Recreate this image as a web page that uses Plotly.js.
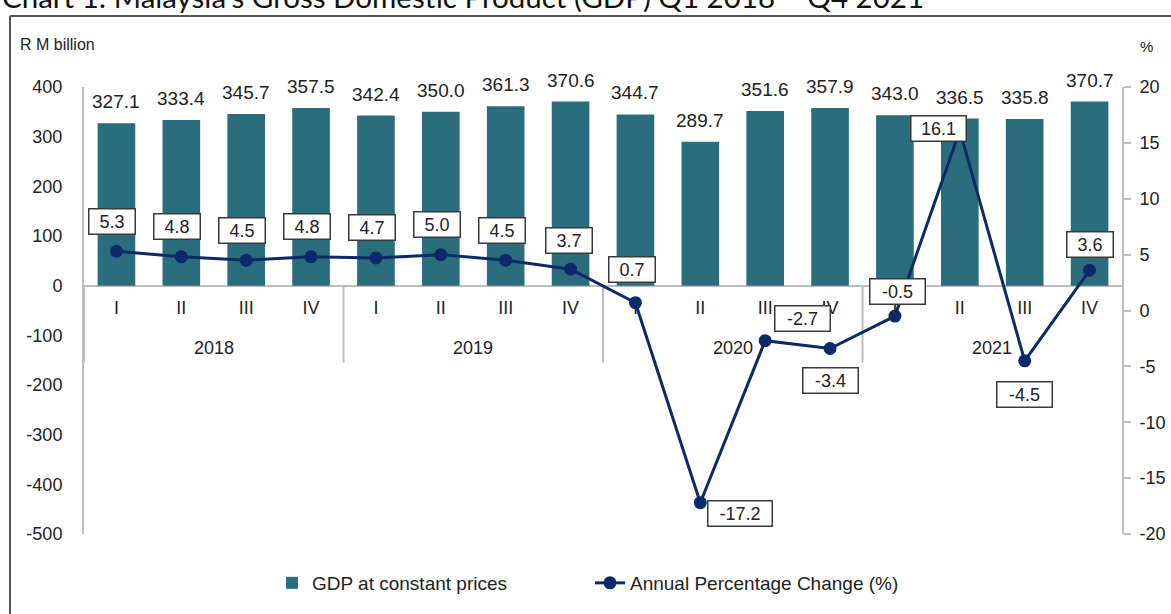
<!DOCTYPE html>
<html>
<head>
<meta charset="utf-8">
<script src="https://cdn.plot.ly/plotly-3.0.1.min.js"></script>
<style>html,body{margin:0;padding:0;background:#fff;}#chart{width:1171px;height:614px;}</style>
</head>
<body>
<div id="chart"></div>
<script>
// ---- data ----
const years = ['2018', '2019', '2020', '2021'];
const quarters = ['I','II','III','IV','I','II','III','IV','I','II','III','IV','I','II','III','IV'];
const gdp = [327.1, 333.4, 345.7, 357.5, 342.4, 350.0, 361.3, 370.6, 344.7, 289.7, 351.6, 357.9, 343.0, 336.5, 335.8, 370.7];
const growth = [5.3, 4.8, 4.5, 4.8, 4.7, 5.0, 4.5, 3.7, 0.7, -17.2, -2.7, -3.4, -0.5, 16.1, -4.5, 3.6];
const leftTickVals = [-500, -400, -300, -200, -100, 0, 100, 200, 300, 400];
const leftTickText = ['-500', '-400', '-300', '-200', '-100', '0', '100', '200', '300', '400'];
const rightTickVals = [-20, -15, -10, -5, 0, 5, 10, 15, 20];
const rightTickText = ['-20', '-15', '-10', '-5', '0', '5', '10', '15', '20'];
const barName = 'GDP at constant prices';
const lineName = 'Annual Percentage Change (%)';
const titleText = "Chart 1: Malaysia's Gross Domestic Product (GDP) Q1 2018 \u2013 Q4 2021";

// ---- label placement (style, not data) ----
const boxOffsets = [[-4,30],[-4,30],[-4,30],[-4,30],[-4,30],[-4,30],[-4,30],[-2,29],[-3,33],[40,-11],[37,22],[0,-32],[3,25],[-21,2],[0,-34],[0,26]];

const FONT = 'Liberation Sans, Arial, sans-serif';
const TXT = '#222';
const AX = '#bdbdbd';

// plot area in pixels
const L = 84, R = 49, T = 87, B = 80;
const W = 1171, H = 614;
const pw = W - L - R, ph = H - T - B;
const px = x => (x - L) / pw;
const py = y => (H - B - y) / ph;

const idx = gdp.map((_, i) => i);
const zeroPos = (0 - leftTickVals[0]) / (leftTickVals[leftTickVals.length - 1] - leftTickVals[0]);

const traces = [
  {
    type: 'bar', x: idx, y: gdp, name: barName, yaxis: 'y',
    marker: {color: '#2a6e7d'}, width: 0.58, hoverinfo: 'y'
  },
  {
    type: 'scatter', mode: 'lines+markers', x: idx, y: growth, name: lineName, yaxis: 'y2',
    line: {color: '#0c2a6a', width: 3}, marker: {color: '#0c2a6a', size: 13}
  }
];

const annotations = [];
// bar value labels
gdp.forEach((v, i) => {
  annotations.push({
    x: i, y: v, xref: 'x', yref: 'y', text: v.toFixed(1), showarrow: false,
    yanchor: 'bottom', yshift: 9, font: {family: FONT, size: 19, color: TXT}
  });
});
// growth boxed labels
growth.forEach((v, i) => {
  const t = v.toFixed(1);
  annotations.push({
    x: i, y: v, xref: 'x', yref: 'y2', text: t, showarrow: false,
    xshift: boxOffsets[i][0], yshift: boxOffsets[i][1],
    font: {family: FONT, size: 18, color: TXT},
    bgcolor: '#ffffff', bordercolor: '#3a3a3a', borderwidth: 1.5, borderpad: 2,
    width: 14 + t.length * 9
  });
});
// year group labels
years.forEach((yr, g) => {
  annotations.push({
    x: g * 4 + 1.5, y: zeroPos, xref: 'x', yref: 'paper', text: yr, showarrow: false,
    yanchor: 'middle', yshift: -62, font: {family: FONT, size: 18, color: TXT}
  });
});
// axis unit labels
annotations.push({x: px(18), y: py(44), xref: 'paper', yref: 'paper', text: 'R M billion', showarrow: false,
  xanchor: 'left', yanchor: 'middle', font: {family: FONT, size: 16, color: TXT}});
annotations.push({x: px(1146), y: py(47), xref: 'paper', yref: 'paper', text: '%', showarrow: false,
  xanchor: 'center', yanchor: 'middle', font: {family: FONT, size: 15, color: TXT}});
// chart title (cut at top)
annotations.push({x: px(0), y: py(16), xref: 'paper', yref: 'paper', text: titleText, showarrow: false,
  xanchor: 'left', yanchor: 'bottom', font: {family: 'Lato, sans-serif', size: 29.5, color: '#111'}});

const shapes = [];
// year dividers
for (let g = 0; g < years.length; g++) {
  shapes.push({type: 'line', xref: 'x', yref: 'paper', x0: g * 4 - 0.5, x1: g * 4 - 0.5,
    y0: zeroPos, y1: zeroPos - 77 / ph, line: {color: AX, width: 2}, layer: 'below'});
}
// outer frame
shapes.push({type: 'line', xref: 'paper', yref: 'paper', x0: px(10), x1: px(1175), y0: py(16), y1: py(16), line: {color: '#555', width: 2}});
shapes.push({type: 'line', xref: 'paper', yref: 'paper', x0: px(10), x1: px(10), y0: py(16), y1: py(620), line: {color: '#555', width: 2}});

const layout = {
  width: W, height: H,
  margin: {l: L, r: R, t: T, b: B, pad: 0},
  paper_bgcolor: '#ffffff', plot_bgcolor: 'rgba(0,0,0,0)',
  font: {family: FONT, size: 18, color: TXT},
  showlegend: true,
  legend: {orientation: 'h', x: px(272), y: py(583), xanchor: 'left', yanchor: 'middle',
    font: {family: FONT, size: 19, color: TXT}, entrywidth: 273, entrywidthmode: 'pixels',
    bgcolor: 'rgba(0,0,0,0)'},
  xaxis: {
    range: [-0.5, 15.5], tickvals: idx, ticktext: quarters, anchor: 'free', position: zeroPos,
    showline: true, linecolor: AX, linewidth: 2, ticks: '', showgrid: false, zeroline: false,
    layer: 'below traces', tickfont: {family: FONT, size: 18, color: TXT}, ticklabelstandoff: 6,
    fixedrange: true
  },
  yaxis: {
    range: [-500, 400], tickvals: leftTickVals, ticktext: leftTickText, showline: true,
    linecolor: AX, linewidth: 2, ticks: '', showgrid: false, zeroline: false,
    tickfont: {family: FONT, size: 18, color: TXT}, ticklabelstandoff: 16, fixedrange: true
  },
  yaxis2: {
    range: [-20, 20], tickvals: rightTickVals, ticktext: rightTickText, overlaying: 'y', side: 'right',
    showline: true, linecolor: AX, linewidth: 2, ticks: 'outside', ticklen: 7, tickwidth: 2, tickcolor: AX,
    showgrid: false, zeroline: false, tickfont: {family: FONT, size: 18, color: TXT}, ticklabelstandoff: 5,
    fixedrange: true
  },
  yaxis3: {
    range: [-20, 20], tickvals: rightTickVals, overlaying: 'y', side: 'right', anchor: 'x',
    showline: false, ticks: 'inside', ticklen: 7, tickwidth: 2, tickcolor: AX,
    showticklabels: false, showgrid: false, zeroline: false, fixedrange: true
  },
  annotations: annotations,
  shapes: shapes
};

Plotly.newPlot('chart', traces, layout, {displayModeBar: false, staticPlot: true});
</script>
</body>
</html>
